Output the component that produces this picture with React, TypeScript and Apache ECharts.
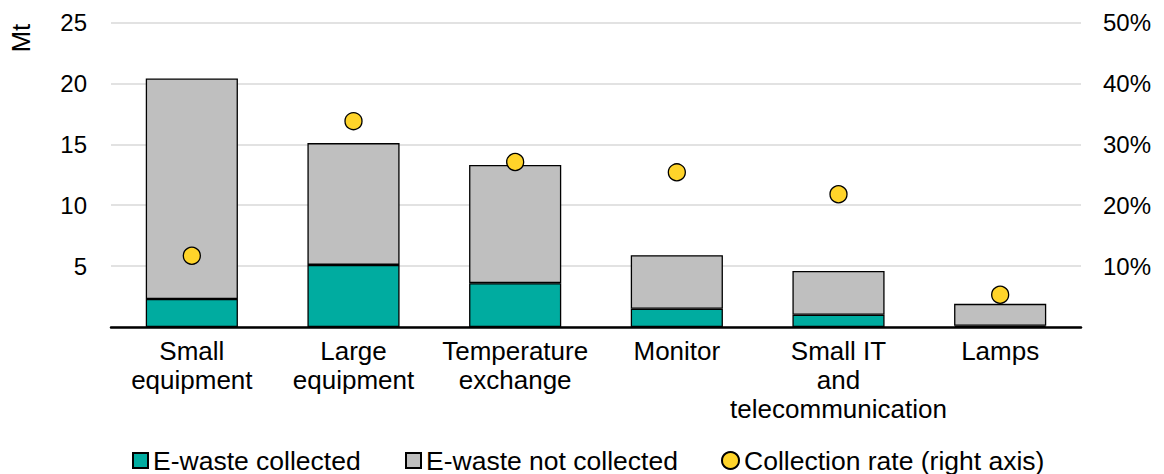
import React, { useEffect, useRef } from "react";
import * as echarts from "echarts";

const categories = [
  "Small\nequipment",
  "Large\nequipment",
  "Temperature\nexchange",
  "Monitor",
  "Small IT\nand\ntelecommunication",
  "Lamps",
];
const collected = [2.3, 5.1, 3.6, 1.5, 1.0, 0.1];
const notCollected = [18.1, 10.0, 9.7, 4.4, 3.6, 1.8];
const collectionRate = [11.7, 33.8, 27.1, 25.4, 21.8, 5.3];

const FONT = "'Liberation Sans', Arial, sans-serif";
const TEAL = "#00ACA0";
const GREY = "#BFBFBF";
const YELLOW = "#FFD42A";

export default function App() {
  const ref = useRef<HTMLDivElement>(null);
  useEffect(() => {
    if (!ref.current) return;
    const chart = echarts.init(ref.current, undefined, { renderer: "svg" });
    const legendText = { fontFamily: FONT, fontSize: 26.5, lineHeight: 26, color: "#000" };
    const legendBase = {
      top: 447,
      padding: 0,
      itemWidth: 15,
      itemHeight: 15,
      textStyle: legendText,
      selectedMode: false,
    };
    chart.setOption({
      animation: false,
      textStyle: { fontFamily: FONT },
      grid: { left: 111, right: 83, top: 22.5, bottom: 147, containLabel: false },
      legend: [
        { ...legendBase, data: ["E-waste collected"], left: 132, icon: "rect" },
        { ...legendBase, data: ["E-waste not collected"], left: 405, icon: "rect" },
        {
          ...legendBase,
          data: ["Collection rate (right axis)"],
          left: 721,
          itemWidth: 17,
          itemHeight: 17,
        },
      ],
      graphic: [
        {
          type: "text",
          x: 21,
          y: 38,
          rotation: Math.PI / 2,
          style: {
            text: "Mt",
            fontFamily: FONT,
            fontSize: 25.5,
            fill: "#000",
            align: "center",
            verticalAlign: "middle",
          },
        },
      ],
      xAxis: {
        type: "category",
        data: categories,
        axisLine: { lineStyle: { color: "#000", width: 2.5 } },
        axisTick: { show: false },
        axisLabel: {
          color: "#000",
          fontFamily: FONT,
          fontSize: 26,
          lineHeight: 29,
          margin: 9,
          interval: 0,
        },
      },
      yAxis: [
        {
          type: "value",
          min: 0,
          max: 25,
          interval: 5,
          axisLine: { show: false },
          axisTick: { show: false },
          splitLine: { lineStyle: { color: "#D9D9D9", width: 1.5 } },
          axisLabel: {
            color: "#000",
            fontFamily: FONT,
            fontSize: 24,
            margin: 24,
            formatter: (v: number) => (v === 0 ? "" : String(v)),
          },
        },
        {
          type: "value",
          min: 0,
          max: 50,
          interval: 10,
          position: "right",
          axisLine: { show: false },
          axisTick: { show: false },
          splitLine: { show: false },
          axisLabel: {
            color: "#000",
            fontFamily: FONT,
            fontSize: 24,
            margin: 22,
            formatter: (v: number) => (v === 0 ? "" : v + "%"),
          },
        },
      ],
      series: [
        {
          name: "E-waste collected",
          type: "bar",
          stack: "total",
          barWidth: "57%",
          data: collected,
          itemStyle: { color: TEAL, borderColor: "#000", borderWidth: 1.3 },
        },
        {
          name: "E-waste not collected",
          type: "bar",
          stack: "total",
          barWidth: "57%",
          data: notCollected,
          itemStyle: { color: GREY, borderColor: "#000", borderWidth: 1.3 },
        },
        {
          name: "Collection rate (right axis)",
          type: "scatter",
          yAxisIndex: 1,
          symbol: "circle",
          symbolSize: 17,
          data: collectionRate,
          itemStyle: { color: YELLOW, borderColor: "#000", borderWidth: 1.3, opacity: 1 },
          z: 5,
        },
      ],
    });
    return () => chart.dispose();
  }, []);
  return (
    <div
      ref={ref}
      style={{ position: "fixed", left: 0, top: 0, width: 1164, height: 474, background: "#fff" }}
    />
  );
}
